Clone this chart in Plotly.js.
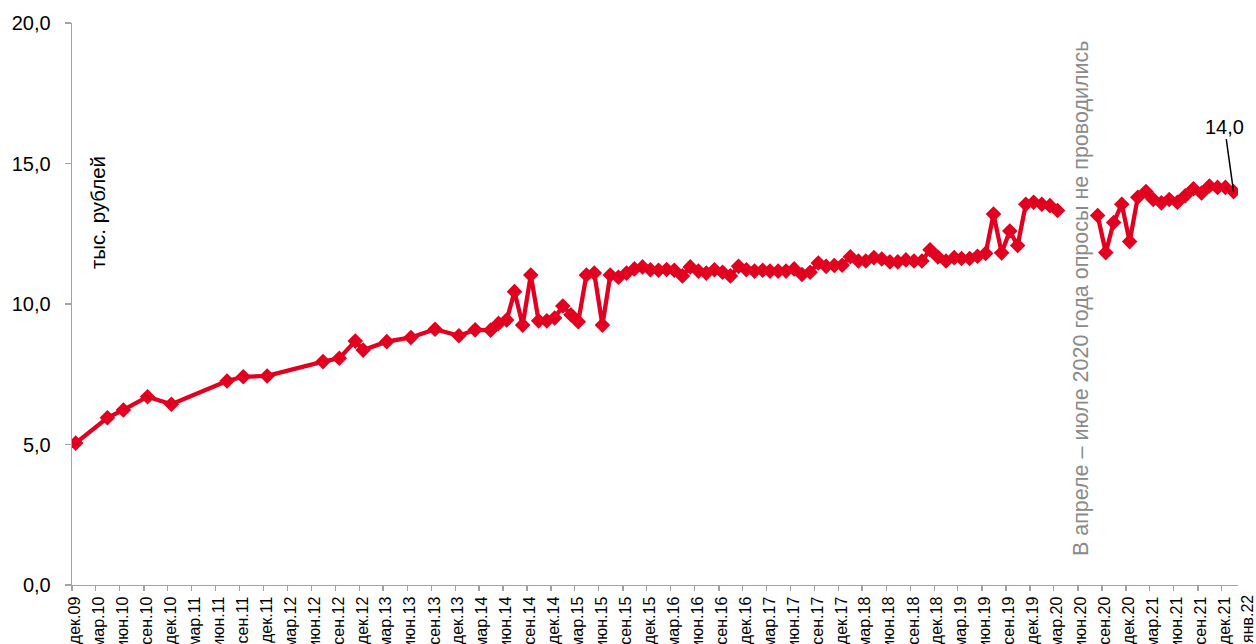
<!DOCTYPE html>
<html><head><meta charset="utf-8">
<script src="https://cdn.plot.ly/plotly-3.0.1.min.js"></script>
<style>html,body{margin:0;padding:0;background:#fff}#chart{width:1256px;height:644px}</style>
</head><body><div id="chart"></div>
<script>
// Survey months (YYYY-MM); apr–jul 2020 not surveyed (null)
const months = [
  "2009-12","2010-04","2010-06","2010-09","2010-12",
  "2011-07","2011-09","2011-12",
  "2012-07","2012-09","2012-11","2012-12",
  "2013-03","2013-06","2013-09","2013-12",
  "2014-02","2014-04","2014-05","2014-06","2014-07","2014-08","2014-09","2014-10","2014-11","2014-12",
  "2015-01","2015-02","2015-03","2015-04","2015-05","2015-06","2015-07","2015-08","2015-09","2015-10","2015-11","2015-12",
  "2016-01","2016-02","2016-03","2016-04","2016-05","2016-06","2016-07","2016-08","2016-09","2016-10","2016-11","2016-12",
  "2017-01","2017-02","2017-03","2017-04","2017-05","2017-06","2017-07","2017-08","2017-09","2017-10","2017-11","2017-12",
  "2018-01","2018-02","2018-03","2018-04","2018-05","2018-06","2018-07","2018-08","2018-09","2018-10","2018-11","2018-12",
  "2019-01","2019-02","2019-03","2019-04","2019-05","2019-06","2019-07","2019-08","2019-09","2019-10","2019-11","2019-12",
  "2020-01","2020-02","2020-03","2020-04","2020-05","2020-06","2020-07","2020-08","2020-09","2020-10","2020-11","2020-12",
  "2021-01","2021-02","2021-03","2021-04","2021-05","2021-06","2021-07","2021-08","2021-09","2021-10","2021-11","2021-12",
  "2022-01"
];
// тыс. рублей
const values = [
  5.05, 5.95, 6.23, 6.70, 6.43,
  7.26, 7.41, 7.44,
  7.95, 8.07, 8.68, 8.36,
  8.66, 8.81, 9.10, 8.87,
  9.08, 9.07, 9.31, 9.43, 10.44, 9.25, 11.03, 9.40, 9.40, 9.50,
  9.93, 9.62, 9.37, 11.03, 11.10, 9.25, 11.03, 10.95, 11.10, 11.25, 11.32, 11.22,
  11.20, 11.23, 11.20, 11.00, 11.32, 11.17, 11.10, 11.22, 11.13, 11.00, 11.34, 11.22,
  11.17, 11.20, 11.17, 11.17, 11.17, 11.25, 11.05, 11.13, 11.46, 11.34, 11.37, 11.38,
  11.68, 11.53, 11.53, 11.65, 11.60, 11.50, 11.50, 11.57, 11.53, 11.53, 11.93, 11.67,
  11.53, 11.65, 11.62, 11.62, 11.70, 11.80, 13.20, 11.82, 12.60, 12.08, 13.55, 13.62,
  13.55, 13.50, 13.33, null, null, null, null, 13.15, 11.83, 12.90, 13.55, 12.22,
  13.80, 14.00, 13.72, 13.60, 13.72, 13.62, 13.85, 14.10, 13.95, 14.20, 14.15, 14.15,
  14.00
];
const tickLabels = [
  "дек.09","мар.10","июн.10","сен.10","дек.10","мар.11","июн.11","сен.11","дек.11",
  "мар.12","июн.12","сен.12","дек.12","мар.13","июн.13","сен.13","дек.13",
  "мар.14","июн.14","сен.14","дек.14","мар.15","июн.15","сен.15","дек.15",
  "мар.16","июн.16","сен.16","дек.16","мар.17","июн.17","сен.17","дек.17",
  "мар.18","июн.18","сен.18","дек.18","мар.19","июн.19","сен.19","дек.19",
  "мар.20","июн.20","сен.20","дек.20","мар.21","июн.21","сен.21","дек.21","янв.22"
];
const yTicks = [0, 5, 10, 15, 20];
const yTitle = "тыс. рублей";
const gapNote = "В апреле – июле 2020 года опросы не проводились";

const monNum = {"янв":"01","мар":"03","июн":"06","сен":"09","дек":"12"};
const tickDate = l => "20" + l.split(".")[1] + "-" + monNum[l.split(".")[0]] + "-01";
const axisTicks = tickLabels.slice(0, -1);
const lastLabel = tickLabels[tickLabels.length - 1];

const RED = "#E1001F";
const FONT = "Liberation Sans, Arial, sans-serif";
const AX = "#a3a3a3";

const x = months.map(m => m + "-15");

const trace = {
  type: "scatter", mode: "lines+markers",
  x: x, y: values, connectgaps: false,
  line: {color: RED, width: 4.3},
  marker: {symbol: "diamond", size: 12, color: RED},
  hoverinfo: "x+y", showlegend: false
};

const lastIdx = values.length - 1;
const layout = {
  width: 1256, height: 644,
  margin: {l: 72, r: 18, t: 23, b: 59},
  paper_bgcolor: "#fff", plot_bgcolor: "#fff",
  separators: ", ",
  font: {family: FONT, color: "#000"},
  xaxis: {
    type: "date", range: ["2009-12-01", "2022-02-01"],
    tickmode: "array", tickvals: axisTicks.map(tickDate), ticktext: axisTicks,
    tickangle: -90, tickfont: {size: 16, family: FONT, color: "#000"},
    ticklabelshift: 3, ticklabelstandoff: -1,
    showgrid: false, zeroline: false,
    showline: true, linecolor: AX, linewidth: 1.3,
    ticks: "outside", ticklen: 5, tickcolor: AX, tickwidth: 1.3
  },
  yaxis: {
    range: [0, 20], tickmode: "array", tickvals: yTicks, tickformat: ".1f",
    tickfont: {size: 20, family: FONT, color: "#000"},
    showgrid: false, zeroline: false,
    showline: true, linecolor: AX, linewidth: 1.3,
    ticks: "outside", ticklen: 6, tickcolor: AX, tickwidth: 1.3,
    ticklabelstandoff: 10
  },
  annotations: [
    {xref: "paper", yref: "y", x: 0.0214, y: 13.27, xanchor: "center", yanchor: "middle",
     text: yTitle, textangle: -90,
     showarrow: false, font: {size: 20.5, family: FONT, color: "#000"}},
    {xref: "x", yref: "y", x: "2020-06-15", y: 10.2, xanchor: "center", yanchor: "middle",
     text: gapNote, textangle: -90,
     showarrow: false, font: {size: 21.5, family: FONT, color: "#8a8a8a"}},
    {xref: "x", yref: "y", x: x[lastIdx], y: values[lastIdx],
     text: values[lastIdx].toFixed(1).replace(".", ","),
     showarrow: true, arrowhead: 0, arrowwidth: 1.5, arrowcolor: "#000",
     ax: -9, ay: -65, font: {size: 20, family: FONT, color: "#000"}},
    {xref: "paper", yref: "paper", x: 1.0077, y: 0, xanchor: "center", yanchor: "top", yshift: -8,
     text: lastLabel, textangle: -90, showarrow: false,
     font: {size: 16, family: FONT, color: "#000"}}
  ]
};

Plotly.newPlot("chart", [trace], layout, {displayModeBar: false, staticPlot: true});
</script></body></html>
